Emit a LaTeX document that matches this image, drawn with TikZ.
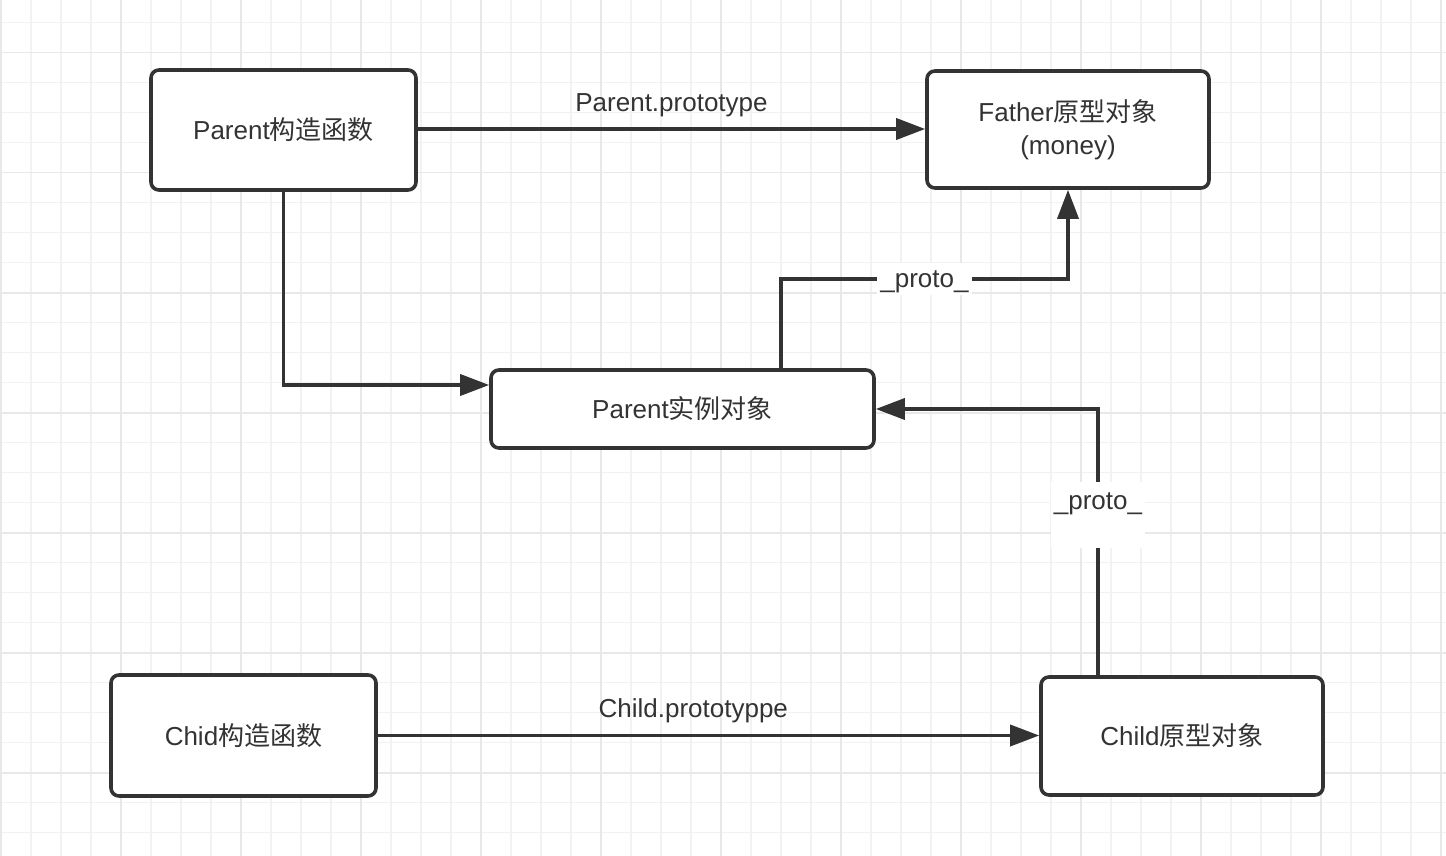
\documentclass[tikz,border=0pt]{standalone}
\usepackage{fontspec}
\setmainfont{Liberation Sans}
\newfontfamily\cjk{Noto Sans CJK SC}
\usetikzlibrary{arrows.meta}
\definecolor{ink}{HTML}{333333}
\definecolor{gridminor}{HTML}{F2F2F2}
\definecolor{gridmajor}{HTML}{E8E8E8}
\begin{document}
\begin{tikzpicture}[x=1pt,y=-1pt,
  box/.style={draw=ink, line width=3.6pt, rounded corners=8pt, fill=white, text=ink,
    font=\fontsize{26}{33}\selectfont, align=center, inner sep=0pt},
  conn/.style={draw=ink, line width=3.6pt, -{Triangle[length=29pt,width=21pt]}},
  lbl/.style={fill=white, text=ink, font=\fontsize{26}{33}\selectfont, inner xsep=3pt, inner ysep=3pt},
  toplbl/.style={text=ink, font=\fontsize{26}{33}\selectfont},
]
\useasboundingbox (0,0) rectangle (1446,856);
\fill[white] (0,0) rectangle (1446,856);
% grid
\foreach \x in {1,31,...,1441} \draw[gridminor, line width=1.2pt] (\x,0) -- (\x,856);
\foreach \y in {22.7,52.7,...,852.7} \draw[gridminor, line width=1.2pt] (0,\y) -- (1446,\y);
\foreach \x in {1,121,...,1441} \draw[gridmajor, line width=1.6pt] (\x,0) -- (\x,856);
\foreach \y in {52.7,172.7,...,852.7} \draw[gridmajor, line width=1.6pt] (0,\y) -- (1446,\y);

% nodes
\node[box, minimum width=265pt, minimum height=120pt] (P) at (283.5,130) {Parent{\cjk 构造函数}};
\node[box, minimum width=282pt, minimum height=117pt] (F) at (1068,129.5) {Father{\cjk 原型对象}\\(money)};
\node[box, minimum width=383pt, minimum height=78pt] (I) at (682.5,409) {Parent{\cjk 实例对象}};
\node[box, minimum width=265pt, minimum height=121pt] (D) at (243.5,735.5) {Chid{\cjk 构造函数}};
\node[box, minimum width=282pt, minimum height=118pt] (E) at (1182,736) {Child{\cjk 原型对象}};

% helper coordinates
\coordinate (y1) at (0,129);
\coordinate (y2) at (0,385);
\coordinate (k1) at (781,279);
\coordinate (k2) at (1098,409);

% connectors
\draw[conn] (P.east |- y1) -- node[toplbl, above=7pt]{Parent.prototype} (F.west |- y1);
\draw[conn] (P.south) |- (I.west |- y2);
\draw[conn] (I.north -| k1) -- (k1) -- node[lbl, text height=21pt, text depth=5pt]{\_proto\_} (k1 -| F.south) -- (F.south);
\draw[conn] (E.north -| k2) -- node[lbl, pos=0.6, text height=24pt, text depth=36pt]{\_proto\_} (k2) -- (I.east);
\draw[conn] (D.east) -- node[toplbl, pos=0.477, above=7pt]{Child.prototyppe} (E.west |- D.east);
\end{tikzpicture}
\end{document}
